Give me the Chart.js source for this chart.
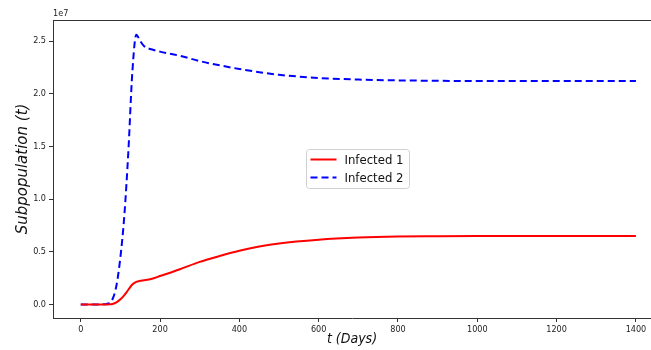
<!DOCTYPE html>
<html>
<head>
<meta charset="utf-8">
<script src="https://cdn.jsdelivr.net/npm/chart.js@4.4.1/dist/chart.umd.min.js"></script>
<style>
  html, body { margin: 0; padding: 0; background: #fff; }
  #wrap { width: 651px; height: 350px; }
</style>
</head>
<body>
<div id="wrap"><canvas id="chart" width="651" height="350"></canvas></div>
<script>
// days on the x axis
const days = [0, 20, 40, 60, 70, 80, 90, 100, 110, 120, 130, 140, 150, 160, 180, 200, 250, 300, 350, 400, 450, 500, 600, 700, 800, 900, 1000, 1200, 1400];
// values in units of 1e7
const infected1 = [0, 0, 0, 0, 0.001, 0.005, 0.02, 0.05, 0.09, 0.14, 0.19, 0.215, 0.225, 0.23, 0.245, 0.27, 0.335, 0.405, 0.46, 0.51, 0.55, 0.58, 0.615, 0.635, 0.645, 0.648, 0.65, 0.651, 0.651];
const infected2 = [0, 0, 0, 0.003, 0.01, 0.05, 0.18, 0.45, 0.85, 1.45, 2.2, 2.56, 2.5, 2.45, 2.42, 2.40, 2.36, 2.31, 2.27, 2.235, 2.205, 2.18, 2.15, 2.135, 2.127, 2.123, 2.121, 2.12, 2.12];
const xTicks = [0, 200, 400, 600, 800, 1000, 1200, 1400];
const yTicks = [0, 0.5, 1.0, 1.5, 2.0, 2.5];
const scaleExp = 1e7;

const toPoints = arr => days.map((d, i) => ({ x: d, y: arr[i] * scaleExp }));

const tickFont = { family: '"DejaVu Sans Condensed", "DejaVu Sans", sans-serif', size: 9 };

// legend box in the middle + top spine + offset text
const extras = {
  id: 'extras',
  afterDraw(chart) {
    const ctx = chart.ctx;
    const a = chart.chartArea;
    ctx.save();
    // top spine
    ctx.strokeStyle = '#333';
    ctx.lineWidth = 1;
    ctx.beginPath();
    ctx.moveTo(a.left, a.top + 0.5);
    ctx.lineTo(a.right, a.top + 0.5);
    ctx.stroke();

    // "1e7" offset label
    ctx.fillStyle = '#222';
    ctx.font = '9px "DejaVu Sans Condensed", "DejaVu Sans", sans-serif';
    ctx.textBaseline = 'bottom';
    ctx.fillText('1e7', a.left, a.top - 2);

    // legend
    const bx = 306.5, by = 149.5, bw = 103, bh = 39;
    ctx.fillStyle = 'rgba(255,255,255,0.8)';
    ctx.strokeStyle = '#d0d0d0';
    ctx.beginPath();
    ctx.roundRect(bx, by, bw, bh, 3);
    ctx.fill();
    ctx.stroke();
    ctx.font = '13px "DejaVu Sans Condensed", "DejaVu Sans", sans-serif';
    ctx.textBaseline = 'middle';
    chart.data.datasets.forEach((ds, i) => {
      const y = by + 10 + i * 18;
      ctx.strokeStyle = ds.borderColor;
      ctx.lineWidth = ds.borderWidth;
      ctx.setLineDash(ds.borderDash || []);
      ctx.beginPath();
      ctx.moveTo(bx + 4, y);
      ctx.lineTo(bx + 30, y);
      ctx.stroke();
      ctx.setLineDash([]);
      ctx.fillStyle = '#111';
      ctx.fillText(ds.label, bx + 38, y + 1);
    });
    ctx.restore();
  }
};

new Chart(document.getElementById('chart'), {
  type: 'line',
  data: {
    datasets: [{
      label: 'Infected 1',
      data: toPoints(infected1),
      borderColor: '#ff0000',
      borderWidth: 2,
      pointRadius: 0,
      cubicInterpolationMode: 'monotone',
      fill: false
    }, {
      label: 'Infected 2',
      data: toPoints(infected2),
      borderColor: '#0000ff',
      borderWidth: 2,
      borderDash: [7, 4],
      pointRadius: 0,
      cubicInterpolationMode: 'monotone',
      fill: false
    }]
  },
  options: {
    responsive: false,
    animation: false,
    devicePixelRatio: 1,
    layout: { padding: { top: 20, right: 0, left: 0, bottom: 0 } },
    plugins: {
      legend: { display: false },
      tooltip: { enabled: false }
    },
    scales: {
      x: {
        type: 'linear',
        min: -70,
        max: 1438,
        afterFit: s => { s.height = 32; },
        afterBuildTicks: s => { s.ticks = xTicks.map(v => ({ value: v })); },
        grid: { display: true, drawOnChartArea: false, drawTicks: true, tickLength: 4, color: '#333' },
        border: { display: true, color: '#333', width: 1 },
        ticks: { color: '#222', font: tickFont, padding: 2, maxRotation: 0, callback: v => String(v) },
        title: {
          display: true,
          text: 't (Days)',
          color: '#111',
          font: { family: '"DejaVu Sans Condensed", "DejaVu Sans", sans-serif', size: 14, style: 'italic' },
          padding: { top: 0, bottom: 2 }
        }
      },
      y: {
        min: -0.128 * scaleExp,
        max: 2.70 * scaleExp,
        afterFit: s => { s.width = 53; },
        afterBuildTicks: s => { s.ticks = yTicks.map(v => ({ value: v * scaleExp })); },
        grid: { display: true, drawOnChartArea: false, drawTicks: true, tickLength: 4, color: '#333' },
        border: { display: true, color: '#333', width: 1 },
        ticks: { color: '#222', font: tickFont, padding: 3, callback: v => (v / scaleExp).toFixed(1) },
        title: {
          display: true,
          text: 'Subpopulation (t)',
          color: '#111',
          font: { family: '"DejaVu Sans", sans-serif', size: 15, style: 'italic' },
          padding: { top: 14, bottom: 0 }
        }
      }
    }
  },
  plugins: [extras]
});
</script>
</body>
</html>
